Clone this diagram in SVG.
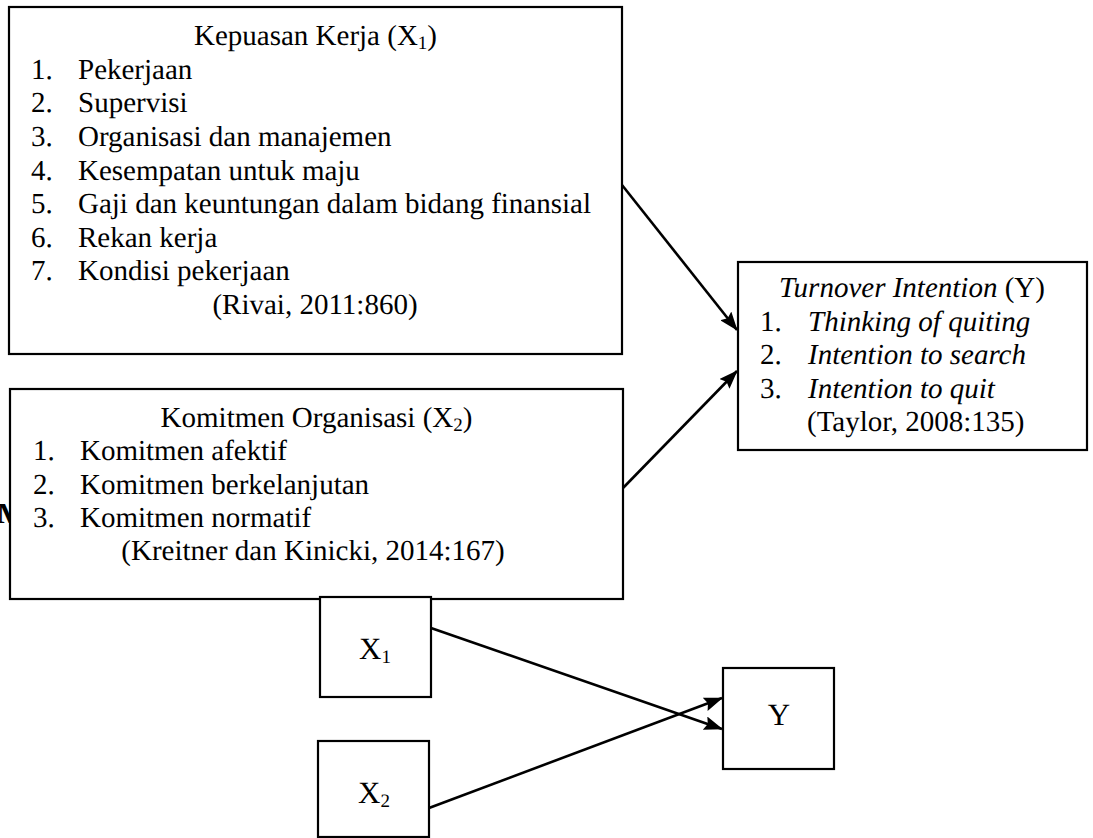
<svg xmlns="http://www.w3.org/2000/svg" width="1093" height="838" viewBox="0 0 1093 838" text-rendering="geometricPrecision">
<style>
text{font-family:"Liberation Serif","Times New Roman",serif;font-size:29px;fill:#000}
.box{fill:#fff;stroke:#000;stroke-width:2.2}
.c{text-anchor:middle}
.i{font-style:italic}
.sub{font-size:19px}
.big{font-size:31px}
.conn{stroke:#000;stroke-width:2.6;fill:none;marker-end:url(#ah)}
</style>
<defs>
<marker id="ah" markerWidth="19" markerHeight="14" refX="18" refY="7" orient="auto" markerUnits="userSpaceOnUse">
<path d="M0,0 L19,7 L0,14 L3,7 Z" fill="#000"/>
</marker>
</defs>
<rect width="1093" height="838" fill="#fff"/>
<text x="-3" y="523" font-weight="bold">M</text>
<g id="kepuasan">
<rect class="box" x="9" y="7" width="613" height="347"/>
<text class="c" x="315.5" y="45">Kepuasan Kerja (X<tspan class="sub" dy="4">1</tspan><tspan dy="-4">)</tspan></text>
<text x="31" y="78.5">1.</text><text x="78" y="78.5">Pekerjaan</text>
<text x="31" y="112">2.</text><text x="78" y="112">Supervisi</text>
<text x="31" y="146">3.</text><text x="78" y="146">Organisasi dan manajemen</text>
<text x="31" y="179.5">4.</text><text x="78" y="179.5">Kesempatan untuk maju</text>
<text x="31" y="213">5.</text><text x="78" y="213">Gaji dan keuntungan dalam bidang finansial</text>
<text x="31" y="246.5">6.</text><text x="78" y="246.5">Rekan kerja</text>
<text x="31" y="280">7.</text><text x="78" y="280">Kondisi pekerjaan</text>
<text class="c" x="315" y="313.5">(Rivai, 2011:860)</text>
</g>
<g id="komitmen">
<rect class="box" x="10" y="389" width="613" height="210"/>
<text class="c" x="316.5" y="427">Komitmen Organisasi (X<tspan class="sub" dy="4">2</tspan><tspan dy="-4">)</tspan></text>
<text x="33" y="460">1.</text><text x="80" y="460">Komitmen afektif</text>
<text x="33" y="493.5">2.</text><text x="80" y="493.5">Komitmen berkelanjutan</text>
<text x="33" y="527">3.</text><text x="80" y="527">Komitmen normatif</text>
<text class="c" x="313" y="560">(Kreitner dan Kinicki, 2014:167)</text>
</g>
<g id="turnover">
<rect class="box" x="738" y="262" width="349" height="188"/>
<text class="c" x="912" y="297"><tspan class="i">Turnover Intention</tspan> (Y)</text>
<text x="760" y="330.5">1.</text><text class="i" x="808" y="330.5">Thinking of quiting</text>
<text x="760" y="364">2.</text><text class="i" x="808" y="364">Intention to search</text>
<text x="760" y="397.5">3.</text><text class="i" x="808" y="397.5">Intention to quit</text>
<text x="807" y="431">(Taylor, 2008:135)</text>
</g>
<g id="x1">
<rect class="box" x="320" y="597" width="111" height="100"/>
<text class="big" x="359" y="659">X<tspan class="sub" dy="4">1</tspan></text>
</g>
<g id="x2">
<rect class="box" x="318" y="741" width="111" height="96"/>
<text class="big" x="358" y="803">X<tspan class="sub" dy="4">2</tspan></text>
</g>
<g id="y">
<rect class="box" x="723" y="668" width="111" height="101"/>
<text class="big c" x="779" y="725">Y</text>
</g>
<g id="connectors">
<line class="conn" x1="622" y1="185" x2="737" y2="330"/>
<line class="conn" x1="623" y1="488" x2="737" y2="371"/>
<line class="conn" x1="431" y1="628" x2="722" y2="729"/>
<line class="conn" x1="429" y1="808" x2="722" y2="698"/>
</g>
</svg>
